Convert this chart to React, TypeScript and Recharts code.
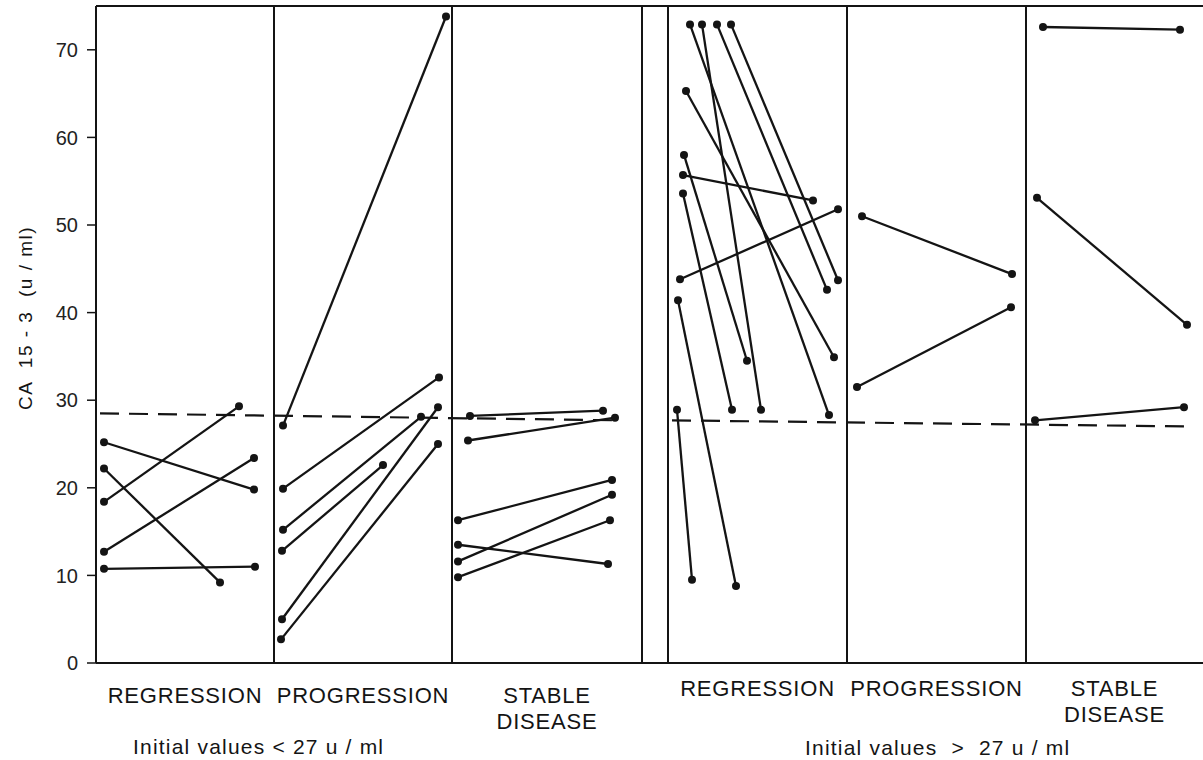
import React from "react";
import { ScatterChart, Scatter, XAxis, YAxis, ReferenceLine } from "recharts";

// x axis units: 0 = y axis, panels laid out left to right
const lowGroupEdges = [0, 17.8, 35.6, 54.6];
const highGroupEdges = [57.2, 75.1, 93.0, 110.7];
const panelNames = [
  ["REGRESSION"],
  ["PROGRESSION"],
  ["STABLE", "DISEASE"],
  ["REGRESSION"],
  ["PROGRESSION"],
  ["STABLE", "DISEASE"],
];
const yTicks = [0, 10, 20, 30, 40, 50, 60, 70];

// each patient: [x start, value start, x end, value end]
const regressionLow = [
  [0.8, 25.2, 15.8, 19.8],
  [0.8, 22.2, 12.4, 9.2],
  [0.8, 18.4, 14.3, 29.3],
  [0.8, 12.7, 15.8, 23.4],
  [0.8, 10.75, 15.9, 11.0],
];
const progressionLow = [
  [18.7, 27.1, 35.0, 73.8],
  [18.7, 19.9, 34.3, 32.6],
  [18.7, 15.2, 32.5, 28.1],
  [18.6, 12.8, 28.7, 22.6],
  [18.6, 5.0, 34.2, 29.2],
  [18.5, 2.7, 34.2, 25.0],
];
const stableLow = [
  [37.4, 28.2, 50.7, 28.8],
  [37.2, 25.4, 51.9, 28.0],
  [36.2, 16.3, 51.6, 20.9],
  [36.2, 13.5, 51.2, 11.3],
  [36.2, 11.6, 51.6, 19.2],
  [36.2, 9.8, 51.4, 16.3],
];
const regressionHigh = [
  [58.7, 55.7, 71.7, 52.8],
  [58.4, 43.8, 74.2, 51.8],
  [58.1, 28.9, 59.6, 9.5],
  [58.2, 41.4, 64.0, 8.8],
  [58.7, 53.6, 63.6, 28.9],
  [58.8, 58.0, 65.1, 34.5],
  [59.0, 65.3, 73.8, 34.9],
  [59.4, 72.9, 73.3, 28.3],
  [60.6, 72.9, 66.5, 28.9],
  [62.1, 72.9, 73.1, 42.6],
  [63.5, 72.9, 74.2, 43.7],
];
const progressionHigh = [
  [76.6, 51.0, 91.6, 44.4],
  [76.1, 31.5, 91.5, 40.6],
];
const stableHigh = [
  [94.7, 72.6, 108.4, 72.3],
  [94.1, 53.1, 109.1, 38.6],
  [93.9, 27.7, 108.8, 29.2],
];

// cut-off line drawn in each group: [x, value] pairs
const cutoffLow = [
  [0.4, 28.5],
  [52.4, 27.7],
];
const cutoffHigh = [
  [57.6, 27.7],
  [109.4, 27.0],
];

const allSegments = [
  ...regressionLow,
  ...progressionLow,
  ...stableLow,
  ...regressionHigh,
  ...progressionHigh,
  ...stableHigh,
];

const edges = [...lowGroupEdges, ...highGroupEdges];
const panelCenters = [0, 1, 2].map((i) => (lowGroupEdges[i] + lowGroupEdges[i + 1]) / 2)
  .concat([0, 1, 2].map((i) => (highGroupEdges[i] + highGroupEdges[i + 1]) / 2));
const dividers = edges.filter((e) => e > 0 && e < 110.7);

const INK = "#141414";
const FONT = "'Liberation Sans', Arial, sans-serif";

const Dot = (p: any) => <circle cx={p.cx} cy={p.cy} r={4} fill={INK} />;

const PanelTick = (p: any) => {
  const lines = panelNames[p.index] || [];
  const first = p.index < 3 ? 40 : 33;
  return (
    <text
      x={p.x}
      y={p.y}
      textAnchor="middle"
      fill={INK}
      fontSize={22}
      fontFamily={FONT}
      style={{ letterSpacing: 0.8 }}
    >
      {lines.map((l, i) => (
        <tspan key={i} x={p.x} dy={i === 0 ? first : 26}>
          {l}
        </tspan>
      ))}
    </text>
  );
};

const App: React.FC = () => {
  return (
    <div style={{ position: "absolute", left: 0, top: 0, width: 1203, height: 760, background: "#fff" }}>
      <ScatterChart width={1203} height={760} margin={{ top: 6, right: 0, bottom: 0, left: 0 }}>
        <XAxis
          type="number"
          dataKey="x"
          domain={[0, 110.7]}
          ticks={panelCenters}
          interval={0}
          tick={<PanelTick />}
          tickLine={false}
          tickSize={0}
          tickMargin={0}
          height={97}
          axisLine={{ stroke: INK, strokeWidth: 2 }}
        />
        <YAxis
          type="number"
          dataKey="y"
          domain={[0, 75]}
          ticks={yTicks}
          interval={0}
          width={96}
          tickSize={9}
          tickMargin={9}
          axisLine={{ stroke: INK, strokeWidth: 2 }}
          tickLine={{ stroke: INK, strokeWidth: 1.5 }}
          tick={{ fill: "#222", fontSize: 20, fontFamily: FONT }}
        />
        <ReferenceLine y={75} stroke={INK} strokeWidth={2} />
        {dividers.map((e) => (
          <ReferenceLine key={e} x={e} stroke={INK} strokeWidth={2} />
        ))}
        {[cutoffLow, cutoffHigh].map((c, i) => (
          <ReferenceLine
            key={"cut" + i}
            segment={[
              { x: c[0][0], y: c[0][1] },
              { x: c[1][0], y: c[1][1] },
            ]}
            stroke={INK}
            strokeWidth={2.2}
            strokeDasharray="19 10"
          />
        ))}
        {allSegments.map((s, i) => (
          <Scatter
            key={i}
            data={[
              { x: s[0], y: s[1] },
              { x: s[2], y: s[3] },
            ]}
            line={{ stroke: INK, strokeWidth: 2.3 }}
            shape={<Dot />}
            isAnimationActive={false}
          />
        ))}
      </ScatterChart>
      <svg
        width={1203}
        height={760}
        style={{ position: "absolute", left: 0, top: 0, pointerEvents: "none" }}
      >
        <text
          transform="translate(32,318) rotate(-90)"
          textAnchor="middle"
          fill={INK}
          fontSize={19}
          fontFamily={FONT}
          style={{ letterSpacing: 1.5, whiteSpace: "pre" }}
        >
          {"CA  15 - 3  (u / ml)"}
        </text>
        <text
          x={133}
          y={754}
          fill={INK}
          fontSize={21}
          fontFamily={FONT}
          style={{ letterSpacing: 1.2, whiteSpace: "pre" }}
        >
          {"Initial values < 27 u / ml"}
        </text>
        <text
          x={805}
          y={755}
          fill={INK}
          fontSize={21}
          fontFamily={FONT}
          style={{ letterSpacing: 1.2, whiteSpace: "pre" }}
        >
          {"Initial values  >  27 u / ml"}
        </text>
      </svg>
    </div>
  );
};

export default App;
